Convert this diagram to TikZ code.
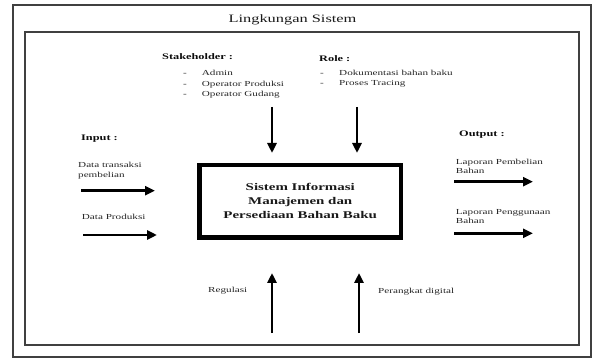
\documentclass[tikz,border=0pt]{standalone}
\usepackage{fontspec}
\setmainfont[FakeStretch=1.45]{Liberation Serif}
\usetikzlibrary{arrows.meta}
\tikzset{
	frame/.style={draw=black!75, line width=1.6pt},
	arr/.style={line width=2.6pt, -{Triangle[length=10pt,width=9pt]}},
	judul/.style={anchor=base, inner sep=0pt, text=black!90, font=\fontsize{11.3}{13}\selectfont},
	head/.style={anchor=base west, inner sep=0pt, text=black!95, font=\fontsize{8.5}{10}\selectfont\bfseries},
	lbl/.style={anchor=base west, inner sep=0pt, text=black!85, font=\fontsize{7.7}{10.5}\selectfont},
	sisbox/.style={draw, line width=4.5pt, inner sep=0pt, minimum width=201.5pt, minimum height=72.5pt, align=center, text=black!90, font=\fontsize{10.3}{14}\selectfont\bfseries}
}
\begin{document}
\begin{tikzpicture}[x=1pt,y=-1pt]
			%%%%% START %%%%%
			\def\dsh{10.5}
			\useasboundingbox (0,0) rectangle (592,358);

			% frames
			\draw[frame] (13,5) rectangle (591,357);
			\draw[frame] (25,32) rectangle (579,345);
			\node[judul] (lingk) at (292.5,23) {Lingkungan Sistem};

			% system
			\node[sisbox] (sis) at (300.25,201.25) {Sistem Informasi\\Manajemen dan\\Persediaan Bahan Baku};

			% stakeholder
			\node[head] (stk) at (162,60) {Stakeholder :};
			\foreach \t [count=\i] in {Admin,Operator Produksi,Operator Gudang}{
				\node[lbl] (stkd\i) at (183,65.5+\dsh*\i) {-};
				\node[lbl] (stk\i) at (201.7,65.5+\dsh*\i) {\t};
			}

			% role
			\node[head] (role) at (319,62) {Role :};
			\foreach \t [count=\i] in {Dokumentasi bahan baku,Proses Tracing}{
				\node[lbl] (roled\i) at (320,65+\dsh*\i) {-};
				\node[lbl] (role\i) at (339,65+\dsh*\i) {\t};
			}

			% input
			\node[head] (inp) at (81,141) {Input :};
			\node[lbl] (inA) at (78,167.7) {Data transaksi};
			\node[lbl] (inAb) at (78,178) {pembelian};
			\node[lbl] (inB) at (81.7,220) {Data Produksi};

			% output
			\node[head] (outp) at (459,136.7) {Output :};
			\node[lbl] (outA) at (455.7,164.3) {Laporan Pembelian};
			\node[lbl] (outAb) at (455.7,174) {Bahan};
			\node[lbl] (outB) at (455.7,214.3) {Laporan Penggunaan};
			\node[lbl] (outBb) at (455.7,223.3) {Bahan};

			% bottom
			\node[lbl] (reg) at (208,292) {Regulasi};
			\node[lbl] (per) at (378,294) {Perangkat digital};

			% arrow ends
			\coordinate (stkS) at (272,107);  \coordinate (stkE) at (272,153);
			\coordinate (roleS) at (357,107); \coordinate (roleE) at (357,153);
			\coordinate (inAS) at (81,190.7);  \coordinate (inAE) at (155,190.7);
			\coordinate (inBS) at (83,235);    \coordinate (inBE) at (157,235);
			\coordinate (outAS) at (454,181.7); \coordinate (outAE) at (533,181.7);
			\coordinate (outBS) at (454,233.3); \coordinate (outBE) at (533,233.3);
			\coordinate (regS) at (272,333);   \coordinate (regE) at (272,273);
			\coordinate (perS) at (359,333);   \coordinate (perE) at (359,273);

			\draw[arr] (stkS) -- (stkE);
			\draw[arr] (roleS) -- (roleE);
			\draw[arr] (inAS) -- (inAE);
			\draw[arr] (inBS) -- (inBE);
			\draw[arr] (outAS) -- (outAE);
			\draw[arr] (outBS) -- (outBE);
			\draw[arr] (regS) -- (regE);
			\draw[arr] (perS) -- (perE);
			%%%%% END %%%%%
\end{tikzpicture}
\end{document}
